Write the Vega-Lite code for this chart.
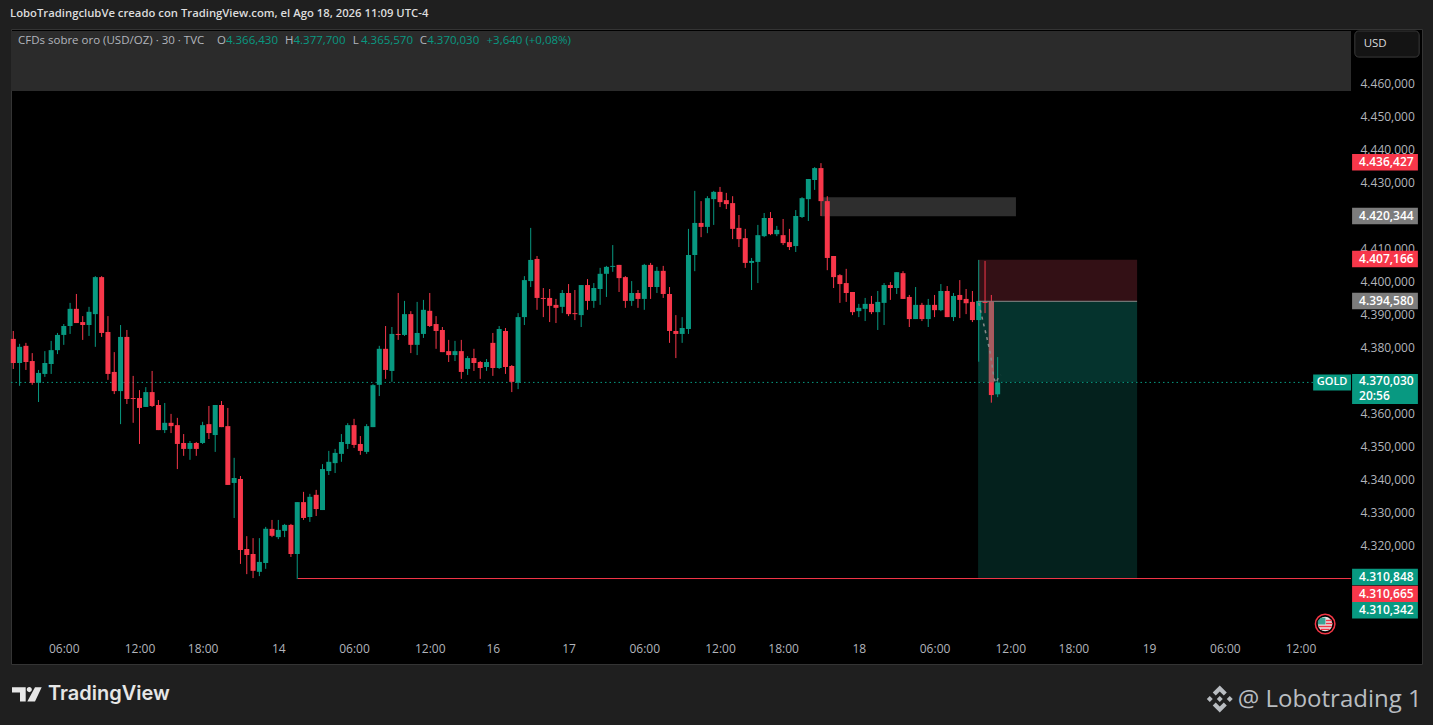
{"$schema":"https://vega.github.io/schema/vega-lite/v6.json","width":1411,"height":635,"autosize":"none","padding":{"left":11,"top":29,"right":11,"bottom":61},"background":"#1f1f1f","view":{"fill":"#000000","stroke":"#343434","strokeWidth":1},
"datasets":{
"candles":[
{"bar":0,"open":4383.2,"high":4385.6,"low":4374.1,"close":4375.9,"kind":"down"},
{"bar":1,"open":4375.9,"high":4381.7,"low":4369.0,"close":4380.8,"kind":"up"},
{"bar":2,"open":4381.1,"high":4382.0,"low":4373.8,"close":4376.2,"kind":"down"},
{"bar":3,"open":4376.5,"high":4378.9,"low":4369.3,"close":4369.9,"kind":"down"},
{"bar":4,"open":4369.9,"high":4373.8,"low":4364.1,"close":4372.9,"kind":"up"},
{"bar":5,"open":4372.6,"high":4379.5,"low":4371.7,"close":4375.9,"kind":"up"},
{"bar":6,"open":4375.6,"high":4382.6,"low":4372.6,"close":4379.8,"kind":"up"},
{"bar":7,"open":4379.8,"high":4385.0,"low":4378.6,"close":4384.4,"kind":"up"},
{"bar":8,"open":4384.4,"high":4387.7,"low":4381.4,"close":4387.1,"kind":"up"},
{"bar":9,"open":4387.1,"high":4394.1,"low":4384.7,"close":4392.3,"kind":"up"},
{"bar":10,"open":4392.3,"high":4396.8,"low":4388.0,"close":4388.0,"kind":"down"},
{"bar":11,"open":4388.3,"high":4390.1,"low":4382.9,"close":4387.4,"kind":"down"},
{"bar":12,"open":4387.4,"high":4392.9,"low":4384.1,"close":4391.4,"kind":"up"},
{"bar":13,"open":4390.7,"high":4402.2,"low":4380.8,"close":4401.9,"kind":"up"},
{"bar":14,"open":4401.9,"high":4402.2,"low":4383.8,"close":4385.0,"kind":"down"},
{"bar":15,"open":4385.3,"high":4390.1,"low":4370.8,"close":4372.6,"kind":"down"},
{"bar":16,"open":4373.2,"high":4379.2,"low":4366.5,"close":4367.4,"kind":"down"},
{"bar":17,"open":4367.4,"high":4387.4,"low":4357.4,"close":4383.8,"kind":"up"},
{"bar":18,"open":4383.8,"high":4385.9,"low":4363.5,"close":4365.0,"kind":"down"},
{"bar":19,"open":4365.3,"high":4372.0,"low":4357.8,"close":4365.0,"kind":"down"},
{"bar":20,"open":4365.3,"high":4367.7,"low":4351.4,"close":4362.3,"kind":"down"},
{"bar":21,"open":4362.6,"high":4368.6,"low":4362.6,"close":4367.1,"kind":"up"},
{"bar":22,"open":4367.1,"high":4373.5,"low":4362.6,"close":4362.9,"kind":"down"},
{"bar":23,"open":4363.2,"high":4364.7,"low":4355.6,"close":4355.6,"kind":"down"},
{"bar":24,"open":4355.6,"high":4363.8,"low":4354.7,"close":4357.8,"kind":"up"},
{"bar":25,"open":4357.8,"high":4360.5,"low":4354.7,"close":4356.8,"kind":"down"},
{"bar":26,"open":4357.1,"high":4359.3,"low":4343.8,"close":4351.4,"kind":"down"},
{"bar":27,"open":4351.7,"high":4354.4,"low":4347.8,"close":4349.9,"kind":"down"},
{"bar":28,"open":4349.9,"high":4352.3,"low":4346.6,"close":4351.7,"kind":"up"},
{"bar":29,"open":4351.7,"high":4352.0,"low":4347.8,"close":4349.9,"kind":"down"},
{"bar":30,"open":4351.7,"high":4358.1,"low":4351.4,"close":4357.1,"kind":"up"},
{"bar":31,"open":4357.4,"high":4362.9,"low":4352.9,"close":4354.7,"kind":"down"},
{"bar":32,"open":4354.1,"high":4363.2,"low":4349.0,"close":4363.2,"kind":"up"},
{"bar":33,"open":4363.2,"high":4364.4,"low":4356.5,"close":4356.5,"kind":"down"},
{"bar":34,"open":4356.8,"high":4362.3,"low":4339.0,"close":4339.0,"kind":"down"},
{"bar":35,"open":4339.6,"high":4347.2,"low":4329.0,"close":4341.1,"kind":"up"},
{"bar":36,"open":4340.8,"high":4341.7,"low":4315.1,"close":4319.3,"kind":"down"},
{"bar":37,"open":4319.6,"high":4323.5,"low":4312.0,"close":4317.8,"kind":"down"},
{"bar":38,"open":4318.1,"high":4322.9,"low":4310.8,"close":4313.0,"kind":"down"},
{"bar":39,"open":4312.7,"high":4322.9,"low":4311.4,"close":4315.7,"kind":"up"},
{"bar":40,"open":4315.4,"high":4326.3,"low":4313.6,"close":4325.7,"kind":"up"},
{"bar":41,"open":4325.7,"high":4328.4,"low":4323.2,"close":4323.6,"kind":"down"},
{"bar":42,"open":4323.2,"high":4328.4,"low":4322.6,"close":4325.4,"kind":"up"},
{"bar":43,"open":4325.1,"high":4327.2,"low":4323.2,"close":4326.9,"kind":"up"},
{"bar":44,"open":4326.9,"high":4327.2,"low":4317.2,"close":4318.1,"kind":"down"},
{"bar":45,"open":4318.1,"high":4333.8,"low":4310.5,"close":4333.8,"kind":"up"},
{"bar":46,"open":4333.8,"high":4336.9,"low":4328.4,"close":4329.0,"kind":"down"},
{"bar":47,"open":4329.3,"high":4336.3,"low":4327.8,"close":4335.4,"kind":"up"},
{"bar":48,"open":4336.0,"high":4337.5,"low":4329.6,"close":4331.7,"kind":"down"},
{"bar":49,"open":4331.4,"high":4345.3,"low":4331.4,"close":4343.8,"kind":"up"},
{"bar":50,"open":4343.2,"high":4349.3,"low":4342.0,"close":4346.0,"kind":"up"},
{"bar":51,"open":4345.6,"high":4349.9,"low":4342.6,"close":4348.7,"kind":"up"},
{"bar":52,"open":4348.4,"high":4354.4,"low":4346.0,"close":4352.0,"kind":"up"},
{"bar":53,"open":4351.4,"high":4357.7,"low":4349.9,"close":4357.1,"kind":"up"},
{"bar":54,"open":4357.1,"high":4359.0,"low":4350.2,"close":4351.1,"kind":"down"},
{"bar":55,"open":4351.4,"high":4353.8,"low":4348.1,"close":4349.3,"kind":"down"},
{"bar":56,"open":4349.0,"high":4357.4,"low":4348.4,"close":4356.8,"kind":"up"},
{"bar":57,"open":4356.5,"high":4369.5,"low":4356.5,"close":4369.2,"kind":"up"},
{"bar":58,"open":4369.3,"high":4381.1,"low":4365.9,"close":4380.2,"kind":"up"},
{"bar":59,"open":4380.2,"high":4387.1,"low":4371.1,"close":4373.8,"kind":"down"},
{"bar":60,"open":4373.5,"high":4386.8,"low":4370.2,"close":4384.7,"kind":"up"},
{"bar":61,"open":4384.7,"high":4397.1,"low":4382.9,"close":4384.4,"kind":"down"},
{"bar":62,"open":4384.4,"high":4394.7,"low":4384.1,"close":4390.7,"kind":"up"},
{"bar":63,"open":4390.7,"high":4391.6,"low":4378.9,"close":4381.4,"kind":"down"},
{"bar":64,"open":4381.4,"high":4394.4,"low":4378.3,"close":4385.0,"kind":"up"},
{"bar":65,"open":4384.7,"high":4395.0,"low":4383.5,"close":4392.0,"kind":"up"},
{"bar":66,"open":4391.7,"high":4397.1,"low":4386.8,"close":4387.1,"kind":"down"},
{"bar":67,"open":4387.7,"high":4390.1,"low":4380.2,"close":4385.6,"kind":"down"},
{"bar":68,"open":4385.9,"high":4386.8,"low":4379.2,"close":4379.2,"kind":"down"},
{"bar":69,"open":4379.5,"high":4382.9,"low":4376.2,"close":4378.3,"kind":"down"},
{"bar":70,"open":4378.3,"high":4382.6,"low":4376.5,"close":4379.5,"kind":"up"},
{"bar":71,"open":4379.5,"high":4382.9,"low":4371.1,"close":4373.2,"kind":"down"},
{"bar":72,"open":4374.1,"high":4378.0,"low":4372.3,"close":4377.4,"kind":"up"},
{"bar":73,"open":4377.4,"high":4380.2,"low":4373.5,"close":4375.9,"kind":"down"},
{"bar":74,"open":4376.2,"high":4376.5,"low":4371.1,"close":4374.4,"kind":"down"},
{"bar":75,"open":4374.7,"high":4377.1,"low":4373.5,"close":4376.2,"kind":"up"},
{"bar":76,"open":4382.0,"high":4385.0,"low":4372.0,"close":4374.4,"kind":"down"},
{"bar":77,"open":4374.4,"high":4387.1,"low":4374.1,"close":4386.2,"kind":"up"},
{"bar":78,"open":4385.6,"high":4386.5,"low":4372.6,"close":4374.7,"kind":"down"},
{"bar":79,"open":4375.0,"high":4375.3,"low":4367.1,"close":4370.2,"kind":"down"},
{"bar":80,"open":4369.9,"high":4391.0,"low":4368.0,"close":4389.8,"kind":"up"},
{"bar":81,"open":4389.8,"high":4402.2,"low":4387.4,"close":4401.0,"kind":"up"},
{"bar":82,"open":4400.7,"high":4416.8,"low":4398.9,"close":4407.1,"kind":"up"},
{"bar":83,"open":4407.4,"high":4408.3,"low":4392.0,"close":4395.6,"kind":"down"},
{"bar":84,"open":4395.6,"high":4398.6,"low":4389.8,"close":4395.3,"kind":"down"},
{"bar":85,"open":4395.6,"high":4398.3,"low":4388.3,"close":4393.2,"kind":"down"},
{"bar":86,"open":4393.5,"high":4395.3,"low":4388.0,"close":4392.6,"kind":"down"},
{"bar":87,"open":4392.9,"high":4398.0,"low":4391.0,"close":4397.1,"kind":"up"},
{"bar":88,"open":4397.1,"high":4399.8,"low":4390.1,"close":4390.7,"kind":"down"},
{"bar":89,"open":4391.0,"high":4398.0,"low":4388.9,"close":4390.7,"kind":"down"},
{"bar":90,"open":4390.4,"high":4399.5,"low":4386.8,"close":4399.5,"kind":"up"},
{"bar":91,"open":4399.5,"high":4401.3,"low":4392.0,"close":4394.7,"kind":"down"},
{"bar":92,"open":4394.7,"high":4400.1,"low":4392.6,"close":4398.6,"kind":"up"},
{"bar":93,"open":4398.3,"high":4404.7,"low":4393.5,"close":4402.9,"kind":"up"},
{"bar":94,"open":4402.9,"high":4405.3,"low":4395.9,"close":4405.0,"kind":"up"},
{"bar":95,"open":4405.0,"high":4411.6,"low":4403.5,"close":4405.3,"kind":"up"},
{"bar":96,"open":4405.6,"high":4405.6,"low":4397.4,"close":4401.6,"kind":"down"},
{"bar":97,"open":4401.9,"high":4402.2,"low":4392.6,"close":4394.7,"kind":"down"},
{"bar":98,"open":4394.7,"high":4400.7,"low":4393.2,"close":4397.1,"kind":"up"},
{"bar":99,"open":4397.1,"high":4398.0,"low":4392.6,"close":4395.3,"kind":"down"},
{"bar":100,"open":4395.3,"high":4405.9,"low":4392.0,"close":4405.6,"kind":"up"},
{"bar":101,"open":4405.6,"high":4406.2,"low":4395.3,"close":4398.9,"kind":"down"},
{"bar":102,"open":4398.9,"high":4405.0,"low":4397.1,"close":4403.8,"kind":"up"},
{"bar":103,"open":4403.8,"high":4405.3,"low":4395.6,"close":4396.8,"kind":"down"},
{"bar":104,"open":4396.8,"high":4398.9,"low":4382.0,"close":4385.6,"kind":"down"},
{"bar":105,"open":4385.6,"high":4390.4,"low":4377.4,"close":4384.7,"kind":"down"},
{"bar":106,"open":4384.7,"high":4389.8,"low":4382.0,"close":4386.5,"kind":"up"},
{"bar":107,"open":4386.2,"high":4416.5,"low":4384.7,"close":4408.6,"kind":"up"},
{"bar":108,"open":4408.6,"high":4428.0,"low":4403.7,"close":4418.3,"kind":"up"},
{"bar":109,"open":4418.3,"high":4424.9,"low":4414.0,"close":4417.1,"kind":"down"},
{"bar":110,"open":4417.1,"high":4426.4,"low":4415.2,"close":4425.8,"kind":"up"},
{"bar":111,"open":4425.5,"high":4428.0,"low":4417.7,"close":4427.7,"kind":"up"},
{"bar":112,"open":4427.7,"high":4429.2,"low":4423.1,"close":4424.6,"kind":"down"},
{"bar":113,"open":4425.2,"high":4427.4,"low":4422.5,"close":4424.0,"kind":"down"},
{"bar":114,"open":4424.3,"high":4426.4,"low":4413.4,"close":4416.5,"kind":"down"},
{"bar":115,"open":4416.8,"high":4420.7,"low":4411.0,"close":4413.4,"kind":"down"},
{"bar":116,"open":4413.7,"high":4416.5,"low":4404.7,"close":4406.2,"kind":"down"},
{"bar":117,"open":4406.2,"high":4407.7,"low":4398.0,"close":4406.8,"kind":"up"},
{"bar":118,"open":4406.5,"high":4417.7,"low":4400.1,"close":4414.6,"kind":"up"},
{"bar":119,"open":4414.3,"high":4421.3,"low":4414.0,"close":4419.8,"kind":"up"},
{"bar":120,"open":4419.8,"high":4421.6,"low":4414.6,"close":4414.9,"kind":"down"},
{"bar":121,"open":4414.9,"high":4417.4,"low":4414.3,"close":4416.2,"kind":"up"},
{"bar":122,"open":4414.6,"high":4419.5,"low":4411.6,"close":4412.2,"kind":"down"},
{"bar":123,"open":4412.5,"high":4416.5,"low":4410.1,"close":4411.0,"kind":"down"},
{"bar":124,"open":4411.3,"high":4422.2,"low":4409.5,"close":4420.4,"kind":"up"},
{"bar":125,"open":4420.1,"high":4426.1,"low":4419.8,"close":4425.8,"kind":"up"},
{"bar":126,"open":4425.5,"high":4431.6,"low":4418.9,"close":4431.6,"kind":"up"},
{"bar":127,"open":4431.3,"high":4435.2,"low":4428.3,"close":4434.9,"kind":"up"},
{"bar":128,"open":4434.9,"high":4436.4,"low":4420.4,"close":4424.9,"kind":"down"},
{"bar":129,"open":4424.9,"high":4426.4,"low":4404.0,"close":4407.7,"kind":"down"},
{"bar":130,"open":4408.3,"high":4408.3,"low":4398.6,"close":4401.9,"kind":"down"},
{"bar":131,"open":4402.5,"high":4402.8,"low":4394.1,"close":4399.8,"kind":"down"},
{"bar":132,"open":4400.1,"high":4404.4,"low":4394.4,"close":4397.1,"kind":"down"},
{"bar":133,"open":4397.4,"high":4397.4,"low":4390.4,"close":4391.3,"kind":"down"},
{"bar":134,"open":4391.6,"high":4393.8,"low":4389.8,"close":4392.6,"kind":"up"},
{"bar":135,"open":4392.3,"high":4395.6,"low":4388.6,"close":4393.8,"kind":"up"},
{"bar":136,"open":4393.8,"high":4396.2,"low":4390.7,"close":4391.3,"kind":"down"},
{"bar":137,"open":4391.3,"high":4397.7,"low":4385.9,"close":4394.4,"kind":"up"},
{"bar":138,"open":4394.1,"high":4400.1,"low":4387.4,"close":4399.5,"kind":"up"},
{"bar":139,"open":4399.5,"high":4400.4,"low":4395.0,"close":4398.6,"kind":"down"},
{"bar":140,"open":4398.6,"high":4403.4,"low":4396.8,"close":4403.4,"kind":"up"},
{"bar":141,"open":4403.1,"high":4403.7,"low":4395.3,"close":4395.3,"kind":"down"},
{"bar":142,"open":4395.9,"high":4396.5,"low":4386.8,"close":4389.2,"kind":"down"},
{"bar":143,"open":4389.2,"high":4398.9,"low":4389.2,"close":4393.5,"kind":"up"},
{"bar":144,"open":4393.5,"high":4394.1,"low":4388.6,"close":4389.2,"kind":"down"},
{"bar":145,"open":4389.2,"high":4395.3,"low":4386.8,"close":4393.5,"kind":"up"},
{"bar":146,"open":4393.5,"high":4396.5,"low":4389.8,"close":4391.9,"kind":"down"},
{"bar":147,"open":4391.9,"high":4399.8,"low":4391.6,"close":4397.7,"kind":"up"},
{"bar":148,"open":4397.7,"high":4399.2,"low":4389.8,"close":4389.8,"kind":"down"},
{"bar":149,"open":4389.8,"high":4397.1,"low":4388.6,"close":4396.2,"kind":"up"},
{"bar":150,"open":4396.5,"high":4401.0,"low":4389.5,"close":4395.0,"kind":"down"},
{"bar":151,"open":4395.3,"high":4398.3,"low":4390.7,"close":4394.0,"kind":"down"},
{"bar":152,"open":4394.4,"high":4397.7,"low":4388.3,"close":4388.9,"kind":"down"},
{"bar":153,"open":4388.9,"high":4407.1,"low":4376.3,"close":4394.7,"kind":"up"},
{"bar":154,"open":4394.4,"high":4406.8,"low":4391.0,"close":4394.1,"kind":"down"},
{"bar":155,"open":4394.5,"high":4396.5,"low":4363.9,"close":4366.2,"kind":"down"},
{"bar":156,"open":4366.43,"high":4377.7,"low":4365.57,"close":4370.03,"kind":"up"}
],
"boxes":[
{"bar":-0.364,"bar2":212,"price":4476.4,"price2":4458.2,"kind":"band"},
{"bar":128,"bar2":158.9,"price":4426.1,"price2":4420.344,"kind":"box"},
{"bar":152.9,"bar2":178.1,"price":4407.166,"price2":4394.58,"kind":"loss"},
{"bar":152.9,"bar2":178.1,"price":4394.58,"price2":4370.03,"kind":"gain"},
{"bar":152.9,"bar2":178.1,"price":4370.03,"price2":4310.848,"kind":"gainLow"}
],
"levels":[
{"bar":45.1,"bar2":212,"price":4310.665,"kind":"down"},
{"bar":152.9,"bar2":178.1,"price":4394.58,"kind":"lineGrey"}
],
"lastPrice":[{"bar":-0.364,"bar2":206,"price":4370.03,"kind":"up"}],
"fade":[{"bar":155,"price":4394.5,"price2":4370.03,"kind":"fade"}],
"path":[
{"bar":153.0,"price":4394.06,"kind":"lineGrey"},
{"bar":153.7,"price":4388.3,"kind":"lineGrey"},
{"bar":154.3,"price":4383.5,"kind":"lineGrey"},
{"bar":154.8,"price":4379.2,"kind":"lineGrey"},
{"bar":155.1,"price":4375.5,"kind":"lineGrey"},
{"bar":155.4,"price":4371.4,"kind":"lineGrey"},
{"bar":155.7,"price":4369.9,"kind":"lineGrey"},
{"bar":156.2,"price":4371.7,"kind":"lineGrey"},
{"bar":156.5,"price":4372.3,"kind":"lineGrey"}
],
"tags":[
{"bar":212.17,"bar2":222.6,"price":4436.7,"text":"4.436,427","kind":"down"},
{"bar":212.17,"bar2":222.6,"price":4420.4,"text":"4.420,344","kind":"tagGrey"},
{"bar":212.17,"bar2":222.6,"price":4407.4,"text":"4.407,166","kind":"down"},
{"bar":212.17,"bar2":222.6,"price":4394.7,"text":"4.394,580","kind":"tagGrey"},
{"bar":212.17,"bar2":222.6,"price":4311.1,"text":"4.310,848","kind":"up"},
{"bar":212.17,"bar2":222.6,"price":4306.0,"text":"4.310,665","kind":"down"},
{"bar":212.17,"bar2":222.6,"price":4301.1,"text":"4.310,342","kind":"up"}
],
"priceBox":[{"bar":212.17,"bar2":222.6,"price":4372.6,"price2":4363.5,"kind":"up"}],
"priceText":[
{"bar":212.17,"price":4370.4,"text":"4.370,030","kind":"up"},
{"bar":212.17,"price":4365.8,"text":"20:56","kind":"up"}
],
"gold":[{"bar":206,"bar2":212,"price":4370.03,"kind":"up"}],
"goldText":[{"bar":209,"price":4370.03,"text":"GOLD","kind":"up"}],
"button":[{"bar":212.6,"bar2":222.8,"price":4476.4,"price2":4468.5,"kind":"button"}],
"header":[
{"bar":0.745,"price":4473.4,"text":"CFDs sobre oro (USD/OZ) · 30 · TVC","kind":"label"},
{"bar":32.3,"price":4473.4,"text":"O","kind":"label"},
{"bar":33.7,"price":4473.4,"text":"4.366,430","kind":"up"},
{"bar":43.06,"price":4473.4,"text":"H","kind":"label"},
{"bar":44.4,"price":4473.4,"text":"4.377,700","kind":"up"},
{"bar":53.8,"price":4473.4,"text":"L","kind":"label"},
{"bar":55.1,"price":4473.4,"text":"4.365,570","kind":"up"},
{"bar":64.4,"price":4473.4,"text":"C","kind":"label"},
{"bar":65.6,"price":4473.4,"text":"4.370,030","kind":"up"},
{"bar":75.0,"price":4473.4,"text":"+3,640 (+0,08%)","kind":"up"},
{"bar":214.0,"price":4472.4,"text":"USD","kind":"title"}
],
"titleText":[{"bar":-0.52,"price":4481.5,"text":"LoboTradingclubVe creado con TradingView.com, el Ago 18, 2026 11:09 UTC-4","kind":"title"}],
"brand":[{"bar":5.5,"price":4275.6,"text":"TradingView","kind":"logo"}],
"brandMark":[{"bar":2.17,"price":4275.6,"kind":"logo"}],
"credit":[{"bar":223.2,"price":4273.9,"text":"@ Lobotrading 1","kind":"mark"}],
"creditMark":[{"bar":191.2,"price":4274.2,"kind":"mark"}],
"flag":[{"bar":207.9,"price":4296.9}]
},
"encoding":{
"x":{"field":"bar","type":"quantitative","scale":{"domain":[-0.364,223.25],"nice":false,"zero":false,"padding":0},
"axis":{"title":null,"orient":"bottom","offset":-24,"grid":false,"domain":false,"ticks":false,"labelColor":"#b2b5bc","labelFont":"Open Sans","labelFontSize":12,"labelPadding":3,"labelFlush":false,"labelOverlap":false,"labelBound":false,
"values":[8,20,30,42,54,66,76,88,100,112,122,134,146,158,168,180,192,204],
"labelExpr":"{'8':'06:00','20':'12:00','30':'18:00','42':'14','54':'06:00','66':'12:00','76':'16','88':'17','100':'06:00','112':'12:00','122':'18:00','134':'18','146':'06:00','158':'12:00','168':'18:00','180':'19','192':'06:00','204':'12:00'}[''+datum.value]"}},
"y":{"field":"price","type":"quantitative","scale":{"domain":[4284.8,4477.0],"nice":false,"zero":false},
"axis":{"title":null,"orient":"right","offset":-71,"grid":false,"domain":false,"ticks":false,"labelColor":"#b2b5bc","labelFont":"Open Sans","labelFontSize":12,"labelPadding":9,"labelOffset":-2,"labelOverlap":false,"labelBound":false,"labelAlign":"left",
"values":[4320,4330,4340,4350,4360,4380,4390,4400,4410,4430,4440,4450,4460],
"labelExpr":"replace(format(datum.value,',.0f'),',','.')+',000'"}},
"color":{"field":"kind","type":"nominal","legend":null,"scale":{
"domain":["up","down","label","title","band","box","loss","gain","gainLow","tagGrey","lineGrey","fade","button","logo","mark"],
"range":["#089981","#f7374a","#b2b5bc","#dcdcdc","#2b2b2b","#2e2e2e","#331015","#05332d","#04211d","#7c7c7c","#8a8a8a","#a45c5f","#141414","#e6e6e6","#b9bdc1"]}}
},
"layer":[
{"data":{"name":"boxes"},"mark":{"type":"rect"},"encoding":{"x2":{"field":"bar2"},"y2":{"field":"price2"}}},
{"data":{"name":"lastPrice"},"mark":{"type":"rule","strokeWidth":1,"strokeDash":[1.5,3]},"encoding":{"x2":{"field":"bar2"}}},
{"data":{"name":"candles"},"mark":{"type":"rule","strokeWidth":1},"encoding":{"y":{"field":"high","type":"quantitative","scale":{"domain":[4284.8,4477.0],"nice":false,"zero":false}},"y2":{"field":"low"}}},
{"data":{"name":"candles"},"mark":{"type":"bar","size":5},"encoding":{"y":{"field":"open","type":"quantitative","scale":{"domain":[4284.8,4477.0],"nice":false,"zero":false}},"y2":{"field":"close"}}},
{"data":{"name":"levels"},"mark":{"type":"rule","strokeWidth":1},"encoding":{"x2":{"field":"bar2"}}},
{"data":{"name":"fade"},"mark":{"type":"rule","strokeWidth":5},"encoding":{"y2":{"field":"price2"}}},
{"data":{"name":"path"},"mark":{"type":"line","strokeWidth":1.5,"strokeDash":[3,4]}},
{"data":{"name":"button"},"mark":{"type":"rect","cornerRadius":4,"stroke":"#3a3a3a","strokeWidth":1},"encoding":{"x2":{"field":"bar2"},"y2":{"field":"price2"}}},
{"data":{"name":"tags"},"mark":{"type":"rule","strokeWidth":16.5},"encoding":{"x2":{"field":"bar2"}}},
{"data":{"name":"priceBox"},"mark":{"type":"rect"},"encoding":{"x2":{"field":"bar2"},"y2":{"field":"price2"}}},
{"data":{"name":"gold"},"mark":{"type":"rule","strokeWidth":16},"encoding":{"x2":{"field":"bar2"}}},
{"data":{"name":"tags"},"mark":{"type":"text","font":"Open Sans","fontSize":12,"fontWeight":600,"align":"left","dx":7,"baseline":"middle"},"encoding":{"text":{"field":"text"},"color":{"value":"#ffffff"}}},
{"data":{"name":"priceText"},"mark":{"type":"text","font":"Open Sans","fontSize":12,"fontWeight":600,"align":"left","dx":7,"baseline":"middle"},"encoding":{"text":{"field":"text"},"color":{"value":"#ffffff"}}},
{"data":{"name":"goldText"},"mark":{"type":"text","font":"Open Sans","fontSize":11,"fontWeight":600,"align":"center","baseline":"middle"},"encoding":{"text":{"field":"text"},"color":{"value":"#ffffff"}}},
{"data":{"name":"header"},"mark":{"type":"text","font":"Open Sans","fontSize":11.5,"align":"left","baseline":"middle"},"encoding":{"text":{"field":"text"}}},
{"data":{"name":"titleText"},"mark":{"type":"text","font":"Open Sans","fontSize":11.3,"fontWeight":600,"align":"left","baseline":"middle"},"encoding":{"text":{"field":"text"}}},
{"data":{"name":"brand"},"mark":{"type":"text","font":"Inter","fontSize":20,"fontWeight":600,"align":"left","baseline":"middle"},"encoding":{"text":{"field":"text"}}},
{"data":{"name":"brandMark"},"mark":{"type":"point","filled":true,"opacity":1,"size":3600,"shape":"M-.5-.24H-.043V.24H-.233V-.063H-.5ZM.267-.24H.49L.267.24H.01ZM.162-.16A.085.085 0 1 1-.008-.16A.085.085 0 1 1 .162-.16Z"}},
{"data":{"name":"credit"},"mark":{"type":"text","font":"Open Sans","fontSize":24,"align":"right","baseline":"middle"},"encoding":{"text":{"field":"text"}}},
{"data":{"name":"creditMark"},"mark":{"type":"point","filled":true,"opacity":1,"size":2916,"shape":"M0-.11L.11 0L0 .11L-.11 0ZM-.37-.11L-.26 0L-.37 .11L-.48 0ZM.37-.11L.48 0L.37 .11L.26 0ZM0-.5L.26-.24L.15-.13L0-.28L-.15-.13L-.26-.24ZM0 .5L.26 .24L.15 .13L0 .28L-.15 .13L-.26 .24Z"}},
{"data":{"name":"flag"},"mark":{"type":"point","filled":true,"opacity":1,"size":380,"shape":"circle","stroke":"#f23645","strokeWidth":1.5},"encoding":{"color":{"value":"#000000"}}},
{"data":{"name":"flag"},"mark":{"type":"point","filled":true,"opacity":1,"size":210,"shape":"circle"},"encoding":{"color":{"value":"#e6e6e6"}}},
{"data":{"name":"flag"},"mark":{"type":"point","filled":true,"opacity":1,"size":900,"shape":"M.05-.28H.45V-.18H.05ZM.05-.08H.5V.02H.05ZM-.45.12H.45V.22H-.45ZM-.3.32H.3V.4H-.3Z"},"encoding":{"color":{"value":"#f23645"}}},
{"data":{"name":"flag"},"mark":{"type":"point","filled":true,"opacity":1,"size":900,"shape":"M-.3-.42H.02V.03H-.49V-.2Z"},"encoding":{"color":{"value":"#3aa394"}}}
]
}
